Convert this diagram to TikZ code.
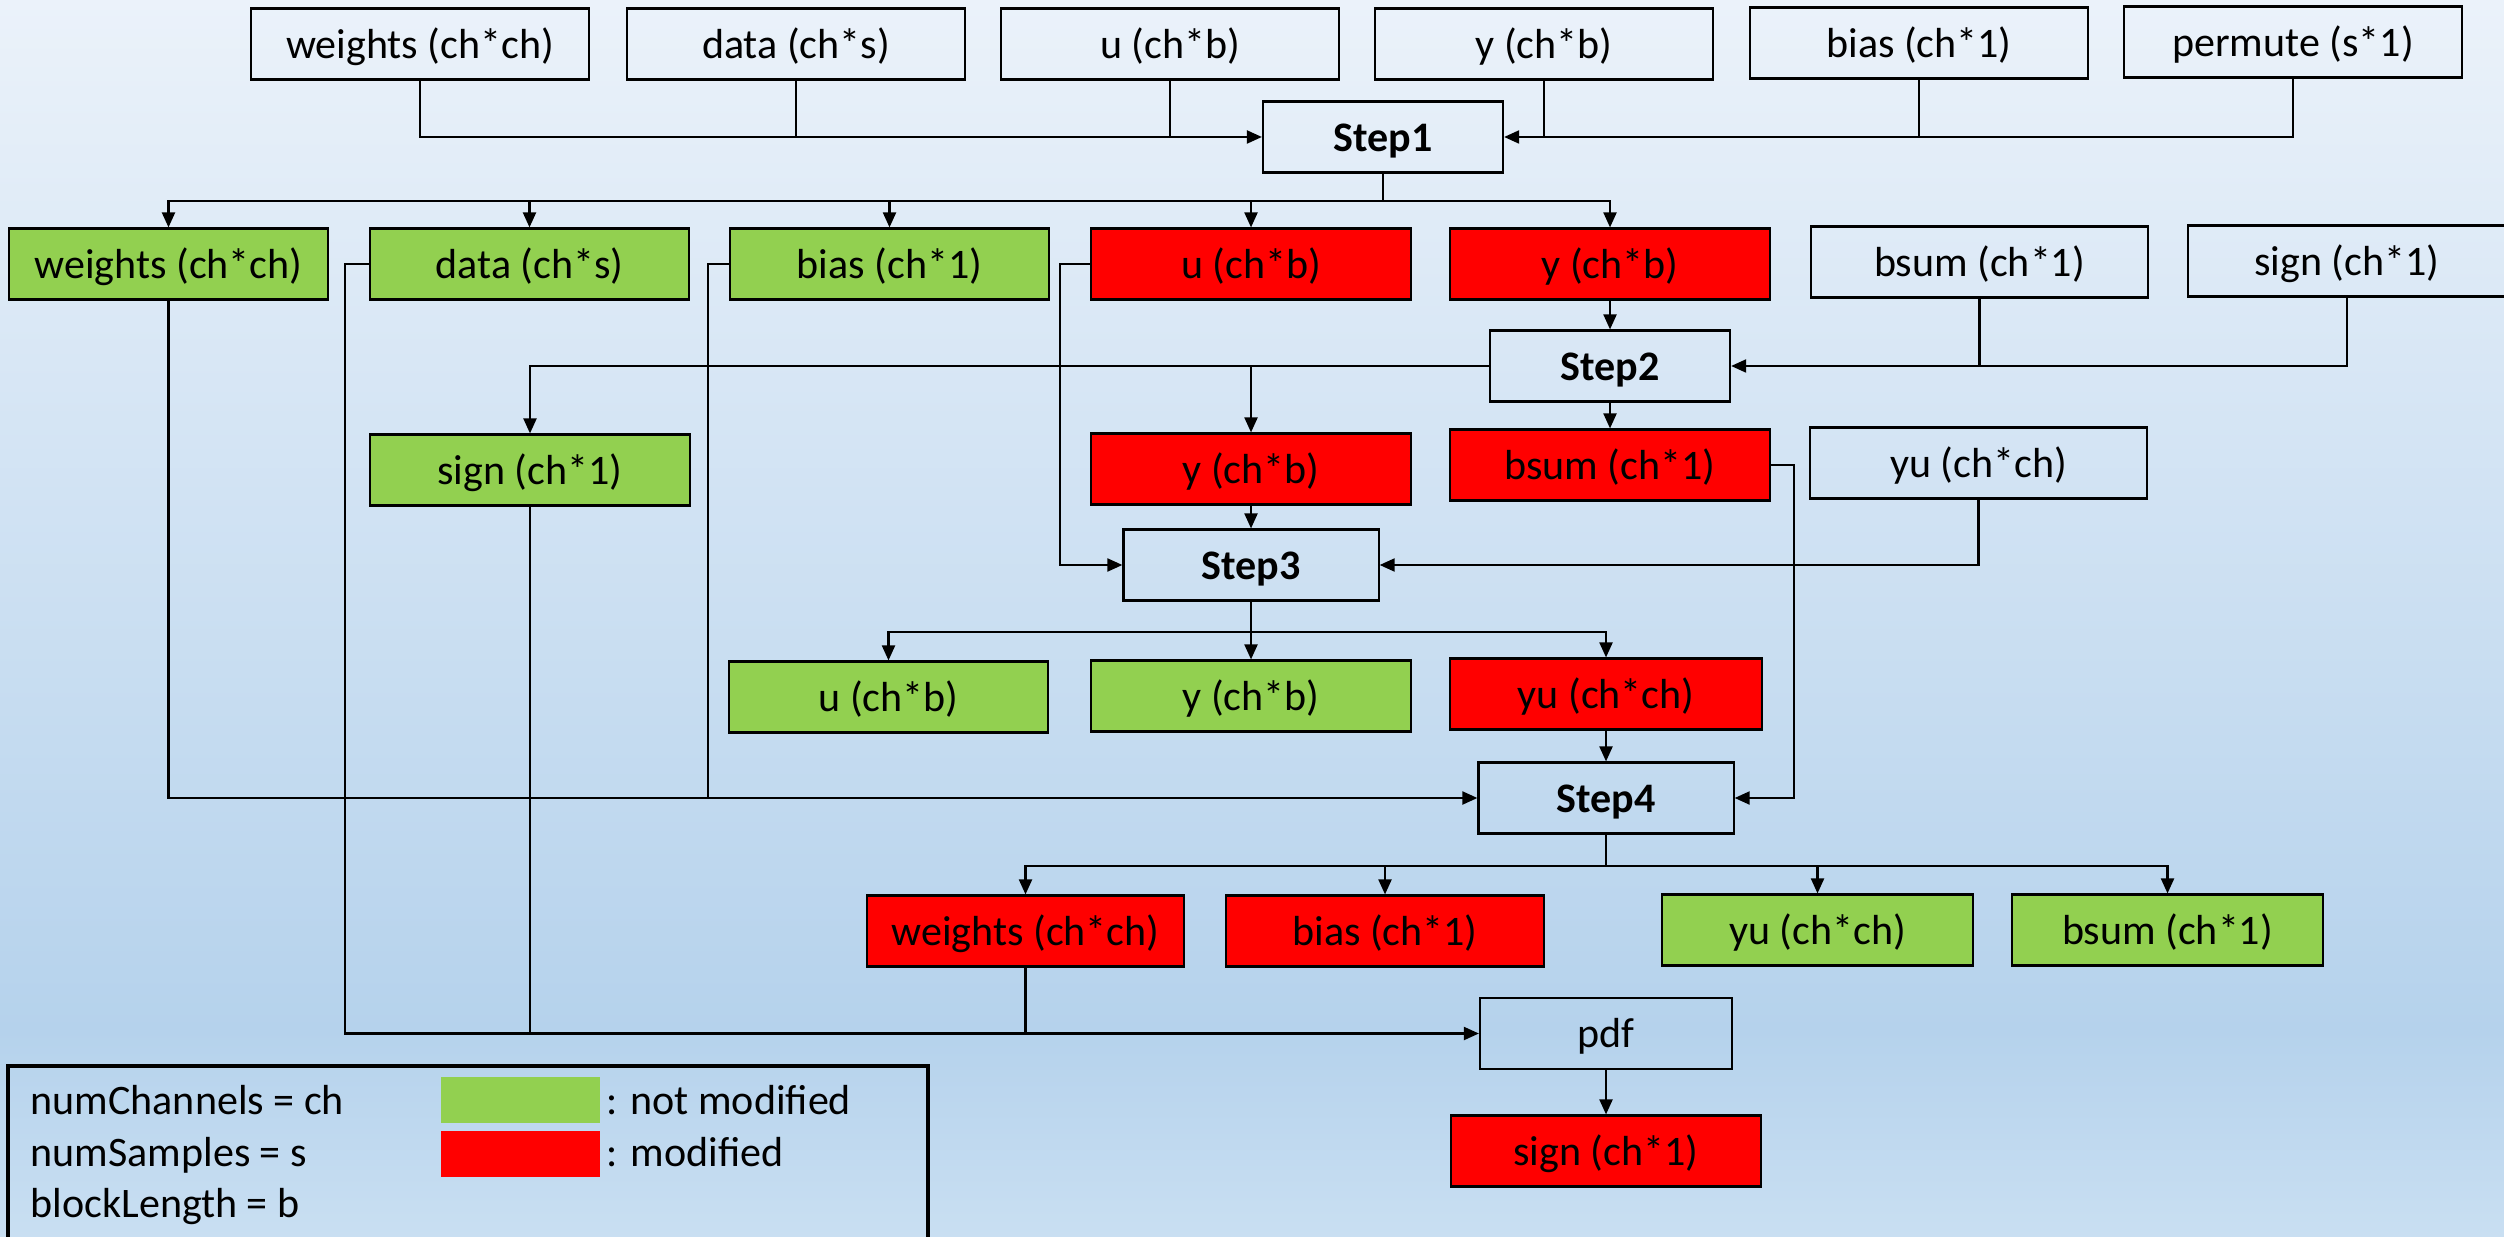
\documentclass[tikz,border=0pt]{standalone}
\usepackage{fontspec}
\setmainfont{Carlito}
\usetikzlibrary{arrows.meta}
\definecolor{bgtop}{RGB}{235,242,250}
\definecolor{bgmid}{RGB}{181,210,236}
\definecolor{bgbot}{RGB}{201,223,242}
\definecolor{keptgreen}{RGB}{146,208,80}
\definecolor{changedred}{RGB}{255,0,0}

\begin{document}
\begin{tikzpicture}[x=0.01cm,y=-0.01cm,
  every node/.style={font=\fontsize{11.95pt}{14pt}\selectfont,
    text height=0.40cm, text depth=0.113cm, inner sep=0pt},
  databox/.style={draw=black, line width=0.6pt, minimum height=0.71cm, minimum width=3.19cm},
  inbox/.style={databox},
  keptbox/.style={databox, fill=keptgreen},
  modbox/.style={databox, fill=changedred},
  stage/.style={databox, minimum width=2.40cm, font=\fontsize{11.95pt}{14pt}\selectfont\bfseries},
  conn/.style={line width=0.6pt, draw=black},
  arr/.style={conn, -{Triangle[length=0.15cm,width=0.13cm]}}]

\useasboundingbox (0,0) rectangle (2504,1237);
\clip (0,0) rectangle (2504,1237);

% background gradient
\shade[top color=bgtop, bottom color=bgmid] (0,0) rectangle (2504,1031);
\shade[top color=bgmid, bottom color=bgbot] (0,1030) rectangle (2504,1237);

% inputs of step 1
\node[inbox, minimum width=3.37cm] (tw) at (420,44)  {weights (ch*ch)};
\node[inbox, minimum width=3.37cm] (td) at (796,44)  {data (ch*s)};
\node[inbox, minimum width=3.37cm] (tu) at (1170,44) {u (ch*b)};
\node[inbox, minimum width=3.37cm] (ty) at (1544,44) {y (ch*b)};
\node[inbox, minimum width=3.37cm] (tb) at (1919,43) {bias (ch*1)};
\node[inbox, minimum width=3.37cm] (tp) at (2293,42) {permute (s*1)};

\node[stage] (step1) at (1383,137) {Step1};

% outputs of step 1
\node[keptbox] (w2) at (168.5,264) {weights (ch*ch)};
\node[keptbox] (d2) at (529.5,264) {data (ch*s)};
\node[keptbox] (b2) at (889.5,264) {bias (ch*1)};
\node[modbox]  (u2) at (1251,264)  {u (ch*b)};
\node[modbox]  (y2) at (1610,264)  {y (ch*b)};
\node[inbox, minimum width=3.37cm] (bs2) at (1979.5,262) {bsum (ch*1)};
\node[inbox, minimum width=3.18cm] (s2)  at (2347,261)   {sign (ch*1)};

\node[stage] (step2) at (1610,366) {Step2};

% outputs of step 2
\node[keptbox] (sg3) at (530,470)  {sign (ch*1)};
\node[modbox]  (y3)  at (1251,469) {y (ch*b)};
\node[modbox]  (bs3) at (1610,465) {bsum (ch*1)};
\node[inbox, minimum width=3.37cm] (yu3) at (1978.5,463) {yu (ch*ch)};

\node[stage, minimum width=2.55cm] (step3) at (1251,565) {Step3};

% outputs of step 3
\node[keptbox] (u4)  at (888.5,697) {u (ch*b)};
\node[keptbox] (y4)  at (1251,696)  {y (ch*b)};
\node[modbox, minimum width=3.12cm] (yu4) at (1606,694) {yu (ch*ch)};

\node[stage, minimum width=2.55cm] (step4) at (1606,798) {Step4};

% outputs of step 4
\node[modbox, minimum width=3.17cm]  (wr5) at (1025.5,931) {weights (ch*ch)};
\node[modbox, minimum width=3.18cm]  (br5) at (1385,931)   {bias (ch*1)};
\node[keptbox, minimum width=3.11cm] (yu5) at (1817.5,930) {yu (ch*ch)};
\node[keptbox, minimum width=3.11cm] (bs5) at (2167.5,930) {bsum (ch*1)};

\node[inbox, minimum width=2.52cm] (pdf) at (1606,1033.5) {pdf};
\node[modbox, minimum width=3.10cm] (sr6) at (1606,1151) {sign (ch*1)};

% step 1 wiring
\draw[arr] (tw.south) |- (step1.west);
\draw[conn] (td.south) -- (td.south |- step1.west);
\draw[conn] (tu.south) -- (tu.south |- step1.west);
\draw[arr] (tp.south) |- (step1.east);
\draw[conn] (tb.south) -- (tb.south |- step1.east);
\draw[conn] (ty.south) -- (ty.south |- step1.east);
\path (step1.south) ++(0,27) coordinate (j1);
\draw[conn] (step1.south) -- (j1);
\foreach \t in {w2,d2,b2,u2,y2} \draw[arr] (j1) -| (\t.north);

% step 2 wiring
\draw[arr] (y2.south) -- (step2.north);
\draw[arr] (s2.south) |- (step2.east);
\draw[conn] (bs2.south) -- (bs2.south |- step2.east);
\draw[arr] (step2.west) -| (sg3.north);
\draw[arr] (step2.west -| y3.north) -- (y3.north);
\draw[arr] (step2.south) -- (bs3.north);

% step 3 wiring
\draw[arr] (y3.south) -- (step3.north);
\draw[arr] (u2.west) -- ++(-30,0) |- (step3.west);
\draw[arr] (yu3.south) |- (step3.east);
\path (step3.south) ++(0,30) coordinate (j3);
\draw[conn] (step3.south) -- (j3);
\draw[arr] (j3) -| (u4.north);
\draw[arr] (j3) -- (y4.north);
\draw[arr] (j3) -| (yu4.north);

% step 4 wiring
\draw[arr] (yu4.south) -- (step4.north);
\draw[arr] (w2.south) |- (step4.west);
\draw[conn] (b2.west) -- ++(-21,0) coordinate (bk) -- (bk |- step4.west);
\draw[arr] (bs3.east) -- ++(23,0) |- (step4.east);
\path (step4.south) ++(0,31) coordinate (j4);
\draw[conn] (step4.south) -- (j4);
\foreach \t in {wr5,br5,yu5,bs5} \draw[arr] (j4) -| (\t.north);

% pdf wiring
\draw[arr] (d2.west) -- ++(-24,0) |- (pdf.west);
\draw[conn] (sg3.south) -- (sg3.south |- pdf.west);
\draw[conn] (wr5.south) -- (wr5.south |- pdf.west);
\draw[arr] (pdf.south) -- (sr6.north);

% legend
\draw[line width=0.9pt] (8,1066) rectangle (928,1262);
\node[anchor=base west] (lch) at (30,1114) {numChannels = ch};
\node[anchor=base west] (lsa) at (30,1166) {numSamples = s};
\node[anchor=base west] (lbl) at (30,1217) {blockLength = b};
\node[fill=keptgreen, minimum width=1.59cm, minimum height=0.46cm, text height=0pt, text depth=0pt] (swg) at (520.5,1100) {};
\node[fill=changedred, minimum width=1.59cm, minimum height=0.46cm, text height=0pt, text depth=0pt] (swr) at (520.5,1154) {};
\node[anchor=base west] (lnm) at (606,1114) {: not modified};
\node[anchor=base west] (lmo) at (606,1166) {: modified};
\end{tikzpicture}
\end{document}
